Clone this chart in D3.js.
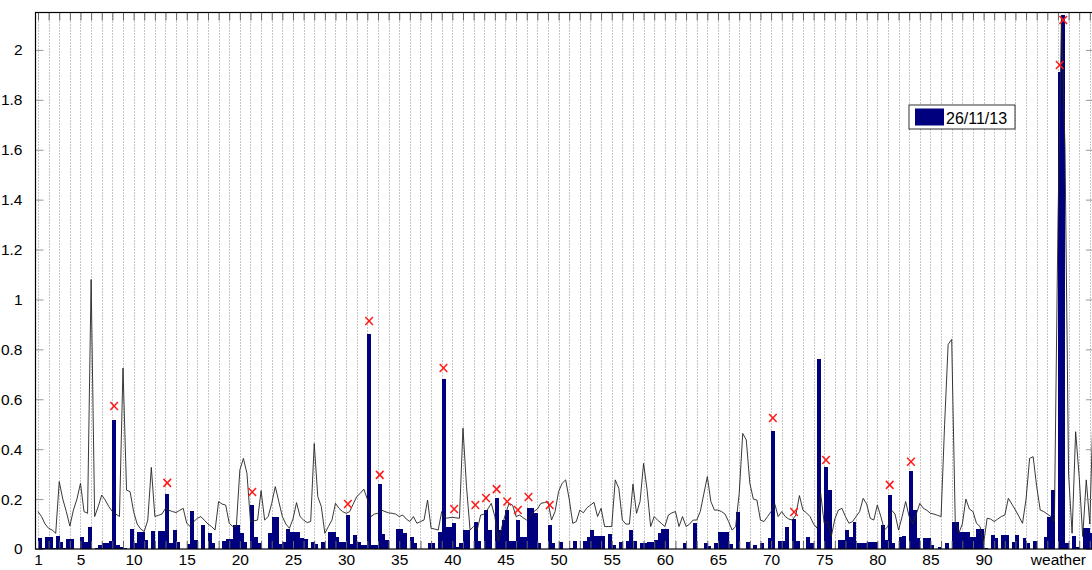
<!DOCTYPE html>
<html>
<head>
<meta charset="utf-8">
<script src="https://cdn.jsdelivr.net/npm/d3@7"></script>
<style>
body { margin: 0; background: #fff; }
svg { display: block; font-family: "Liberation Sans", Arial, sans-serif; }
</style>
</head>
<body>
<svg id="chart" width="1092" height="570"></svg>
<script>
// three sub-bars per feature (1..100)
const barGroups = [
  [0.043,0.005,0.047],[0.047,0.005,0.053],[0.028,0.005,0.04],[0.04,0,0],[0.05,0.027,0.09],
  [0,0.005,0.016],[0.023,0.023,0.032],[0.516,0.016,0.01],[0.005,0,0.079],[0.023,0.07,0.07],
  [0.036,0,0.072],[0,0.073,0.073],[0.22,0.023,0.076],[0.03,0,0],[0.02,0.152,0.036],
  [0,0.096,0],[0.065,0.023,0],[0,0.033,0.039],[0.039,0.096,0.096],[0.063,0.029,0],
  [0.176,0.05,0.023],[0,0,0.063],[0.13,0.13,0.02],[0.03,0.08,0.07],[0.07,0.07,0.043],
  [0.04,0.005,0.027],[0.02,0,0.03],[0,0.07,0.07],[0.05,0.03,0.03],[0.136,0.02,0.056],
  [0.03,0.016,0.016],[0.86,0.016,0.016],[0.26,0.06,0.036],[0,0,0.079],[0.079,0.065,0],
  [0.05,0.023,0],[0,0,0.023],[0.023,0,0.07],[0.68,0.09,0.09],[0.103,0.01,0.023],
  [0.076,0.076,0],[0.11,0.033,0],[0.156,0.076,0],[0.206,0.076,0.116],[0.156,0.033,0.033],
  [0.116,0.05,0.05],[0.163,0.163,0.143],[0.023,0,0],[0.096,0.023,0],[0.03,0,0],
  [0.005,0.032,0],[0,0.032,0.05],[0.076,0.053,0.053],[0.053,0,0.059],[0.016,0,0.028],
  [0,0.032,0.076],[0.032,0,0.023],[0.023,0.027,0.027],[0.038,0.063,0.08],[0.08,0,0],
  [0,0,0.023],[0,0,0.103],[0,0,0.023],[0.012,0,0.023],[0.07,0.07,0.07],
  [0.02,0,0.15],[0,0,0.03],[0,0.016,0],[0.023,0,0.043],[0.473,0,0.032],
  [0.032,0.09,0],[0.12,0.032,0],[0,0.05,0.023],[0,0.76,0],[0.33,0.236,0],
  [0,0.036,0.036],[0.076,0.05,0.11],[0.023,0.023,0.023],[0.03,0.03,0.03],[0,0.096,0.036],
  [0.218,0.023,0],[0.05,0.052,0],[0.313,0.156,0.043],[0,0.043,0.043],[0.016,0,0.01],
  [0,0.023,0],[0.11,0.11,0.07],[0.07,0.07,0.05],[0.05,0.079,0.079],[0.003,0,0.056],
  [0.043,0,0.056],[0.056,0,0.03],[0.056,0,0.043],[0.023,0,0.033],[0,0,0.05],
  [0.13,0.236,0],[1.91,2.14,0.023],[0,0.053,0.01],[0,0.083,0.083],[0.063,0.063,0.063]
];

// black line, three points per feature
const lineGroups = [
  [0.15,0.13,0.1],[0.083,0.076,0.063],[0.27,0.2,0.15],[0.092,0.156,0.2],[0.263,0.15,0.143],
  [1.08,0.13,0.17],[0.216,0.196,0.17],[0.15,0.14,0.13],[0.725,0.236,0.23],[0.15,0.1,0.08],
  [0.07,0.116,0.327],[0.13,0.135,0.14],[0.163,0.155,0.15],[0.146,0.155,0.163],[0.103,0.09,0.11],
  [0.123,0.13,0.115],[0.1,0.09,0.076],[0.19,0.18,0.176],[0.103,0.09,0.09],[0.317,0.363,0.303],
  [0.11,0.113,0.116],[0.234,0.116,0.13],[0.183,0.25,0.19],[0.13,0.1,0.083],[0.12,0.186,0.13],
  [0.116,0.106,0.11],[0.423,0.21,0.17],[0.063,0.09,0.116],[0.183,0.163,0.15],[0.143,0.15,0.18],
  [0.21,0.223,0.24],[0.2,0.13,0.14],[0.143,0.156,0.15],[0.145,0.143,0.14],[0.13,0.136,0.12],
  [0.11,0.13,0.103],[0.11,0.116,0.196],[0.083,0.08,0.076],[0.15,0.123,0.125],[0.127,0.125,0.123],
  [0.484,0.25,0.076],[0.09,0.076,0.136],[0.14,0.16,0.183],[0.13,0.03,0.09],[0.14,0.183,0.176],
  [0.13,0.136,0.125],[0.116,0.13,0.15],[0.16,0.183,0.186],[0.19,0.116,0.15],[0.23,0.263,0.277],
  [0.2,0.103,0.11],[0.156,0.145,0.165],[0.176,0.187,0.13],[0.163,0.09,0.09],[0.09,0.277,0.243],
  [0.116,0.1,0.1],[0.26,0.143,0.19],[0.343,0.236,0.09],[0.13,0.115,0.103],[0.09,0.136,0.145],
  [0.15,0.09,0.13],[0.09,0.1,0.116],[0.116,0.15,0.22],[0.29,0.19,0.156],[0.156,0.15,0.14],
  [0.11,0.076,0.09],[0.223,0.463,0.437],[0.263,0.2,0.196],[0.116,0.11,0.13],[0.15,0.183,0.13],
  [0.15,0.13,0.12],[0.116,0.136,0.214],[0.156,0.145,0.13],[0.1,0.083,0.223],[0.103,0.11,0.05],
  [0.12,0.156,0.163],[0.13,0.103,0.11],[0.13,0.15,0.203],[0.18,0.123,0.116],[0.176,0.13,0.076],
  [0.09,0.156,0.14],[0.076,0.13,0.19],[0.13,0.1,0.14],[0.183,0.163,0.155],[0.143,0.14,0.135],
  [0.13,0.5,0.82],[0.84,0.11,0.063],[0.1,0.2,0.16],[0.15,0.103,0.09],[0.02,0.123,0.12],
  [0.11,0.12,0.13],[0.136,0.203,0.18],[0.156,0.13,0.103],[0.2,0.363,0.37],[0.25,0.156,0.15],
  [0.14,0.13,0.11],[1.3,2.14,1.6],[0.3,0.063,0.47],[0.29,0.05,0.277],[0.1,0.6,0.62]
];

// red x markers: feature position and value
const markerPos = [8,13,21,30,32,33,39,40,42,43,44,45,46,47,49,70,72,75,81,83,97,97.33];
const markerVal = [0.573,0.265,0.228,0.18,0.914,0.297,0.725,0.16,0.176,0.204,0.24,0.19,0.156,0.208,0.176,0.525,0.148,0.357,0.257,0.35,1.94,2.12];

const yTicks = [0,0.2,0.4,0.6,0.8,1,1.2,1.4,1.6,1.8,2];
const xTickValues = [1,5,10,15,20,25,30,35,40,45,50,55,60,65,70,75,80,85,90,97];
const xTickLabels = ["1","5","10","15","20","25","30","35","40","45","50","55","60","65","70","75","80","85","90","weather"];
const seriesName = "26/11/13";

const nSub = 3;
const plotLeft = 35.5, plotRight = 1093, plotTop = 12.5, plotBottom = 549;

const x = d3.scaleLinear().domain([0.765, 100.3]).range([plotLeft, plotRight]);
const y = d3.scaleLinear().domain([0, 2.15]).range([plotBottom, plotTop]);

const svg = d3.select("#chart");

svg.append("defs").append("clipPath").attr("id", "plot-clip")
    .append("rect")
    .attr("x", plotLeft).attr("y", plotTop)
    .attr("width", plotRight - plotLeft).attr("height", plotBottom - plotTop);

const units = d3.range(1, barGroups.length + 1);

// dotted vertical grid
svg.append("g")
    .selectAll("line")
    .data(units)
    .join("line")
    .attr("x1", d => Math.round(x(d)) + 0.5)
    .attr("x2", d => Math.round(x(d)) + 0.5)
    .attr("y1", plotTop)
    .attr("y2", plotBottom)
    .attr("stroke", "#8c8c8c")
    .attr("stroke-dasharray", "1,2")
    .attr("stroke-width", 1);

// bars
let bars = [];
barGroups.forEach((g, i) => {
    g.forEach((v, k) => {
        bars.push({pos: i + 1 + k / nSub, value: v});
    });
});

svg.append("g")
    .attr("clip-path", "url(#plot-clip)")
    .selectAll("rect")
    .data(bars.filter(d => d.value > 0))
    .join("rect")
    .attr("x", d => x(d.pos))
    .attr("width", d => x(d.pos + 1 / nSub) - x(d.pos) + 0.4)
    .attr("y", d => y(d.value))
    .attr("height", d => y(0) - y(d.value))
    .attr("fill", "#00007f")
    .attr("shape-rendering", "crispEdges");

// line
let linePts = [];
lineGroups.forEach((g, i) => {
    g.forEach((v, k) => linePts.push({pos: i + 1 + k / nSub, value: v}));
});

const line = d3.line()
    .x(d => x(d.pos))
    .y(d => y(d.value));

svg.append("path")
    .datum(linePts)
    .attr("clip-path", "url(#plot-clip)")
    .attr("d", line)
    .attr("fill", "none")
    .attr("stroke", "#222")
    .attr("stroke-width", 0.9);

// red x markers
svg.append("g")
    .selectAll("path")
    .data(markerPos.map((p, i) => ({pos: p, value: markerVal[i]})))
    .join("path")
    .attr("transform", d => "translate(" + x(d.pos + 1 / (2 * nSub)) + "," + y(d.value) + ")")
    .attr("d", "M-3.8,-4L3.8,4M-3.8,4L3.8,-4")
    .attr("stroke", "#ff1a1a")
    .attr("stroke-width", 1.5)
    .attr("fill", "none");

// axes
const labelFor = d => {
    const i = xTickValues.indexOf(d);
    return i >= 0 ? xTickLabels[i] : "";
};

const xBottom = svg.append("g")
    .attr("transform", "translate(0," + plotBottom + ")")
    .call(d3.axisBottom(x).tickValues(units).tickSize(-8).tickPadding(5).tickFormat(labelFor));

const xTop = svg.append("g")
    .attr("transform", "translate(0," + plotTop + ")")
    .call(d3.axisTop(x).tickValues(units).tickSize(-8).tickFormat(""));

const yLeft = svg.append("g")
    .attr("transform", "translate(" + plotLeft + ",0)")
    .call(d3.axisLeft(y).tickValues(yTicks).tickSize(-8).tickPadding(13).tickFormat(d3.format("~g")));

const yRight = svg.append("g")
    .attr("transform", "translate(" + plotRight + ",0)")
    .call(d3.axisRight(y).tickValues(yTicks).tickSize(-7).tickFormat(""));

[xBottom, xTop, yLeft, yRight].forEach(a => {
    a.select(".domain").remove();
    a.selectAll(".tick line").attr("stroke", "#666");
    a.selectAll("text")
        .attr("fill", "#000")
        .style("font-size", "15.5px")
        .style("font-family", "\"Liberation Sans\", Arial, sans-serif");
});
yLeft.selectAll(".tick line").attr("stroke", "#999");
yRight.selectAll(".tick line").attr("stroke", "#999");

// axes box
svg.append("rect")
    .attr("x", plotLeft).attr("y", plotTop)
    .attr("width", plotRight - plotLeft).attr("height", plotBottom - plotTop)
    .attr("fill", "none")
    .attr("stroke", "#000")
    .attr("stroke-width", 1.2);

// legend
const legend = svg.append("g").attr("transform", "translate(909,105)");
legend.append("rect")
    .attr("width", 106).attr("height", 24)
    .attr("fill", "#fff")
    .attr("stroke", "#333");
legend.append("rect")
    .attr("x", 6).attr("y", 3.5)
    .attr("width", 29).attr("height", 17)
    .attr("fill", "#00007f");
legend.append("text")
    .attr("x", 37).attr("y", 18.5)
    .style("font-size", "16px")
    .text(seriesName);
</script>
</body>
</html>
